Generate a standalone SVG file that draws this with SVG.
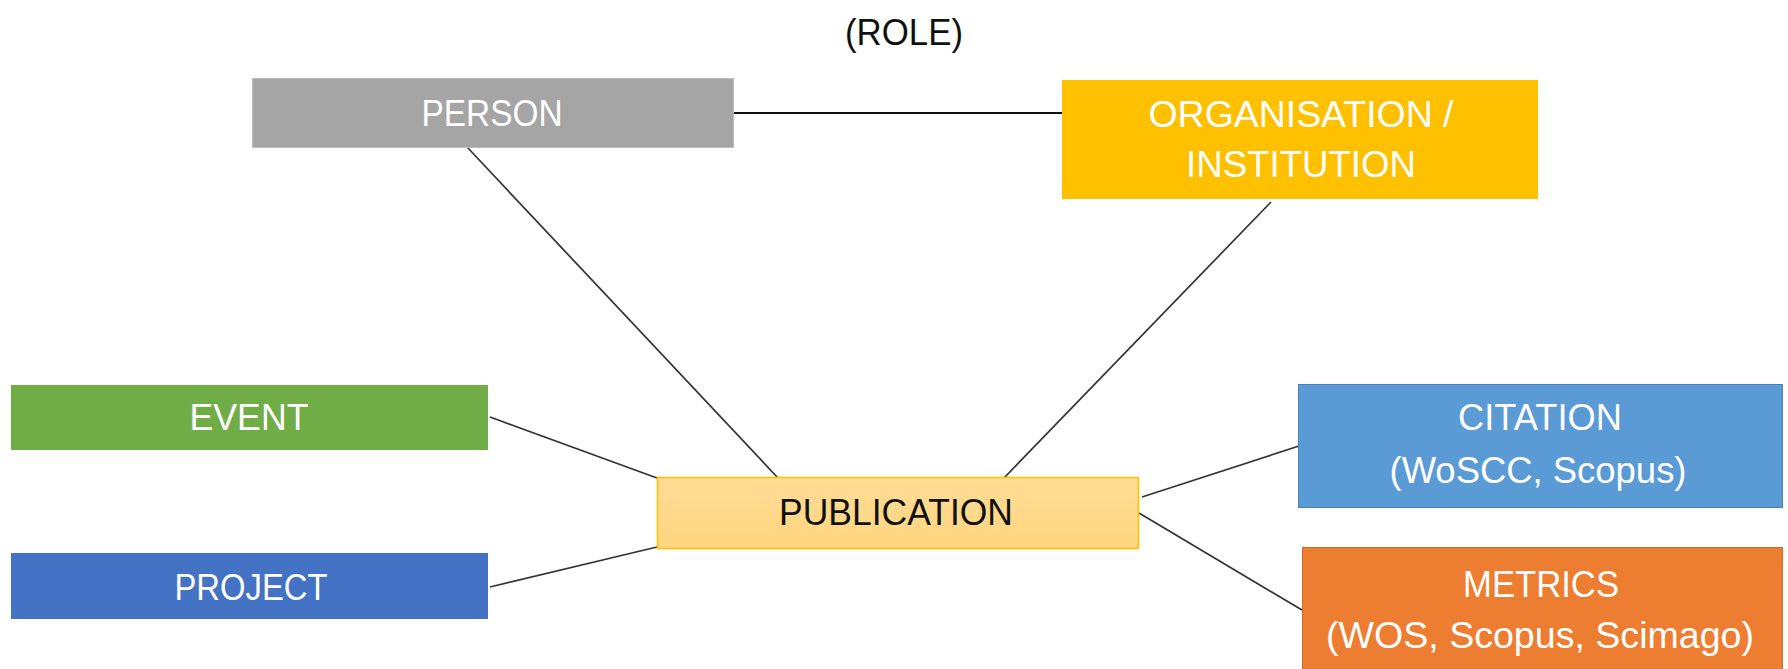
<svg xmlns="http://www.w3.org/2000/svg" width="1788" height="669" viewBox="0 0 1788 669">
<defs>
<style>
.lbl{font-family:"Liberation Sans",Arial,sans-serif;font-size:36px;text-anchor:middle;fill:#ffffff}
.dark{fill:#111111}
.conn{stroke:#333333;stroke-width:1.7;fill:none}
</style>
<linearGradient id="pubGrad" x1="0" y1="0" x2="0" y2="1">
<stop offset="0" stop-color="#FFDC95"/>
<stop offset="1" stop-color="#FFD57F"/>
</linearGradient>
</defs>
<rect width="1788" height="669" fill="#ffffff"/>
<text class="lbl dark" x="904" y="45" textLength="118" lengthAdjust="spacingAndGlyphs">(ROLE)</text>
<g id="connectors">
<line class="conn" x1="733" y1="113" x2="1062" y2="113" style="stroke:#111;stroke-width:2"/>
<line class="conn" x1="467" y1="147" x2="778" y2="478"/>
<line class="conn" x1="1271" y1="202" x2="1004" y2="478"/>
<line class="conn" x1="490" y1="417" x2="657" y2="478"/>
<line class="conn" x1="490" y1="587" x2="657" y2="547"/>
<line class="conn" x1="1142" y1="497" x2="1299" y2="446"/>
<line class="conn" x1="1139" y1="513" x2="1302" y2="610"/>
</g>
<g id="person">
<rect x="252.5" y="78.5" width="481" height="69" fill="#A5A5A5" stroke="#BDBDBD" stroke-width="1"/>
<text class="lbl" x="492" y="126" textLength="141" lengthAdjust="spacingAndGlyphs">PERSON</text>
</g>
<g id="organisation">
<rect x="1062" y="80" width="476" height="119" fill="#FFC000"/>
<text class="lbl" x="1301" y="127" textLength="305" lengthAdjust="spacingAndGlyphs">ORGANISATION /</text>
<text class="lbl" x="1301" y="177" textLength="230" lengthAdjust="spacingAndGlyphs">INSTITUTION</text>
</g>
<g id="event">
<rect x="11" y="385" width="477" height="65" fill="#70AD47"/>
<text class="lbl" x="249" y="430" textLength="119" lengthAdjust="spacingAndGlyphs">EVENT</text>
</g>
<g id="project">
<rect x="11" y="553" width="477" height="66" fill="#4472C4"/>
<text class="lbl" x="251" y="600" textLength="153" lengthAdjust="spacingAndGlyphs">PROJECT</text>
</g>
<g id="publication">
<rect x="657.5" y="477.5" width="481" height="71" fill="url(#pubGrad)" stroke="#FFC000" stroke-width="1.5"/>
<text class="lbl dark" x="896" y="525" textLength="234" lengthAdjust="spacingAndGlyphs">PUBLICATION</text>
</g>
<g id="citation">
<rect x="1298.5" y="384.5" width="484" height="123" fill="#5B9BD5" stroke="#4A80B5" stroke-width="1"/>
<text class="lbl" x="1540" y="430" textLength="164" lengthAdjust="spacingAndGlyphs">CITATION</text>
<text class="lbl" x="1538" y="483" textLength="297" lengthAdjust="spacingAndGlyphs">(WoSCC, Scopus)</text>
</g>
<g id="metrics">
<rect x="1302.5" y="547.5" width="480" height="130" fill="#ED7D31" stroke="#C96A2A" stroke-width="1"/>
<text class="lbl" x="1541" y="597" textLength="156" lengthAdjust="spacingAndGlyphs">METRICS</text>
<text class="lbl" x="1540" y="648" textLength="428" lengthAdjust="spacingAndGlyphs">(WOS, Scopus, Scimago)</text>
</g>
</svg>
